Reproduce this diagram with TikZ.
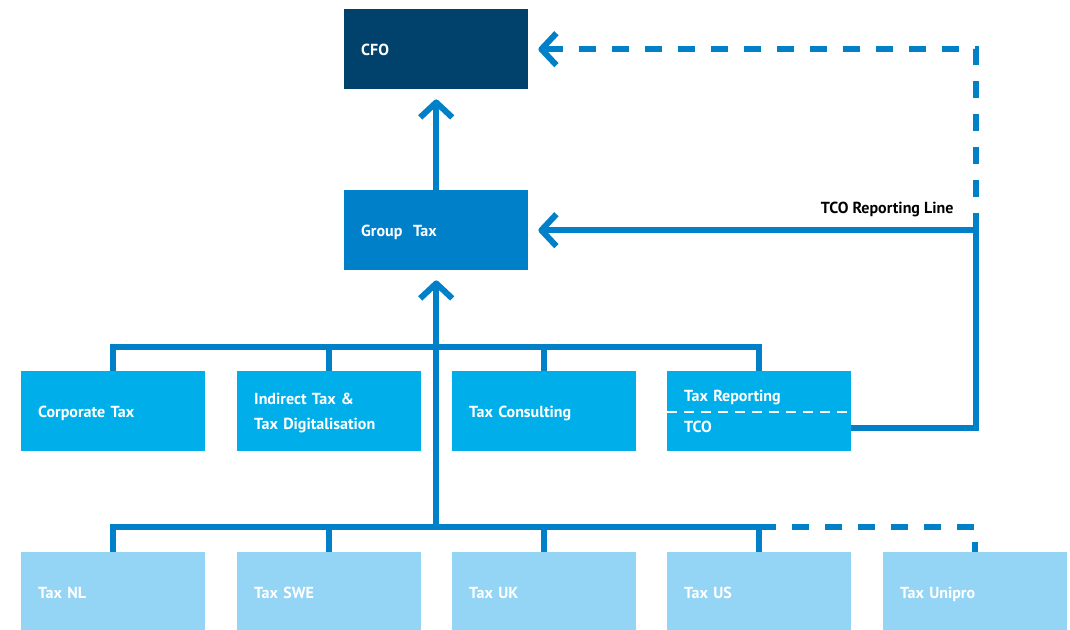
\documentclass[tikz,border=0pt]{standalone}
\usepackage{fontspec}
\setmainfont{PT Sans}
\usetikzlibrary{calc,arrows.meta}
\definecolor{cfoblue}{RGB}{0,66,107}
\definecolor{lineblue}{RGB}{0,128,200}
\definecolor{unitblue}{RGB}{0,174,234}
\definecolor{localblue}{RGB}{148,213,246}
\tikzset{
  box/.style={
    anchor=north west,
    minimum width=184pt,
    minimum height=80pt,
    text width=150pt,
    inner xsep=17pt,
    inner ysep=0pt,
    align=left,
    text=white,
    font=\bfseries\fontsize{16}{25}\selectfont,
    execute at begin node={\rule{0pt}{15.5pt}},
    execute at end node={\vphantom{g}}
  },
  box-cfo/.style={box, fill=cfoblue},
  box-group/.style={box, fill=lineblue},
  box-unit/.style={box, fill=unitblue},
  box-local/.style={box, fill=localblue},
  link/.style={draw=lineblue, line width=6pt},
  link-dashed/.style={link, dash pattern=on 17pt off 16pt},
  link-arrow/.style={-{Straight Barb[length=15pt,width=32pt,line join=round]}, shorten >=10pt},
  split-line/.style={draw=white, line width=2pt, dash pattern=on 10pt off 7pt},
  note/.style={text=black, font=\bfseries\fontsize{16}{18}\selectfont}
}

\begin{document}
\begin{tikzpicture}[x=1pt,y=-1pt]
  \useasboundingbox (0,0) rectangle (1070,629);

  % top of the tree
  \node[box-cfo] (cfo) at (344,9) {CFO};
  \node[box-group] (gtax) at (344,190) {Group~ Tax};

  % functions
  \node[box-unit] (corp) at (21,371) {Corporate Tax};
  \node[box-unit] (ind) at (237,371) {Indirect Tax \&\\Tax Digitalisation};
  \node[box-unit] (cons) at (452,371) {Tax Consulting};
  \node[box-unit] (rep) at (667,371) {Tax Reporting\\[6pt]TCO};
  \draw[split-line] ($(rep.west)+(0,1)$) -- ($(rep.east)+(0,1)$);

  % local entities
  \node[box-local] (nl) at (21,552) {Tax NL};
  \node[box-local] (swe) at (237,552) {Tax SWE};
  \node[box-local] (uk) at (452,552) {Tax UK};
  \node[box-local] (us) at (667,552) {Tax US};
  \node[box-local] (unipro) at (883,552) {Tax Unipro};

  \coordinate (bus-mid) at (0,347);
  \coordinate (bus-low) at (0,527);
  \coordinate (tco-turn) at (976,0);

  % busses
  \draw[link] (corp.north) -- (corp.north |- bus-mid) -- (rep.north |- bus-mid) -- (rep.north);
  \foreach \n in {ind,cons}{
    \draw[link] (\n.north) -- (\n.north |- bus-mid);
  }
  \draw[link] (nl.north) -- (nl.north |- bus-low) -- (us.north |- bus-low) -- (us.north);
  \foreach \n in {swe,uk}{
    \draw[link] (\n.north) -- (\n.north |- bus-low);
  }
  \draw[link-dashed] (us.north |- bus-low) -- (unipro.north |- bus-low) -- (unipro.north);

  % reporting lines
  \draw[link,link-arrow] (gtax.south |- bus-low) -- (gtax.south);
  \draw[link,link-arrow] (gtax.north) -- (cfo.south);
  \draw[link,link-arrow] ($(rep.east)+(0,17)$) -| (tco-turn |- gtax.east) -- (gtax.east);
  \draw[link-dashed,link-arrow] (tco-turn |- gtax.east) -- (tco-turn |- cfo.east) -- (cfo.east);
  \node[note, anchor=east] (tco-label) at (957,209) {TCO Reporting Line};
\end{tikzpicture}
\end{document}
